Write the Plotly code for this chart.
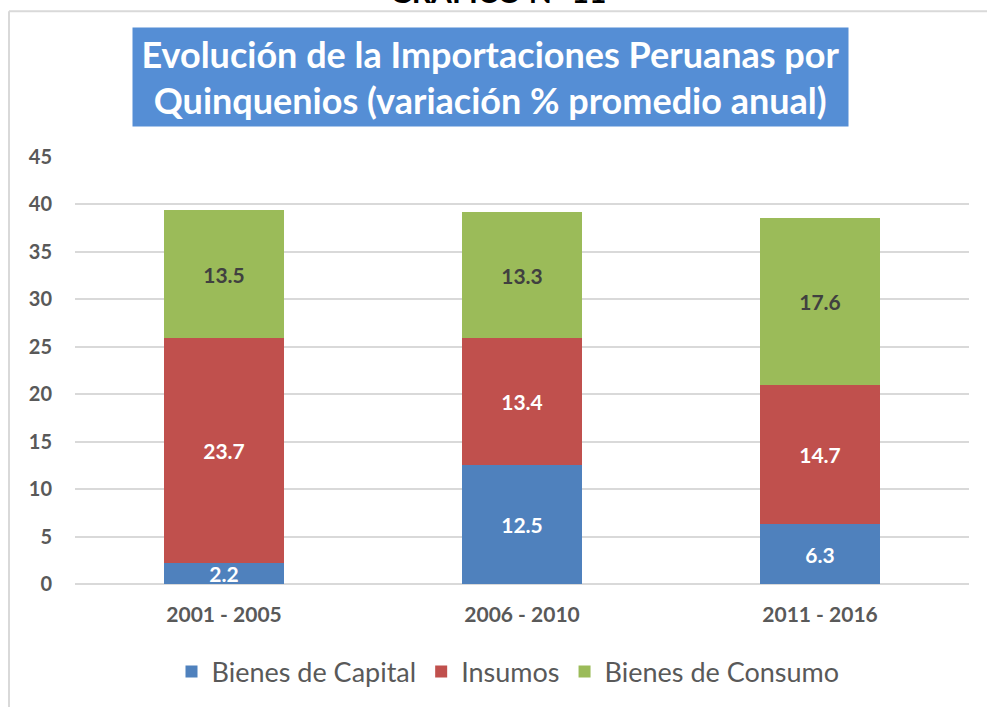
import plotly.graph_objects as go

categories = ["2001 - 2005", "2006 - 2010", "2011 - 2016"]
capital = [2.2, 12.5, 6.3]
insumos = [23.7, 13.4, 14.7]
consumo = [13.5, 13.3, 17.6]
series_names = ["Bienes de Capital", "Insumos", "Bienes de Consumo"]
y_ticks = [0, 5, 10, 15, 20, 25, 30, 35, 40, 45]

FONT = "Lato"
colors = ["#4F81BD", "#C0504D", "#9BBB59"]
label_colors = ["white", "white", "#404040"]

fig = go.Figure()
for name, vals, col, lc in zip(series_names, [capital, insumos, consumo], colors, label_colors):
    fig.add_trace(go.Bar(
        x=categories, y=vals, name=name,
        marker=dict(color=col, line=dict(width=0)),
        text=[f"{v:.1f}" for v in vals],
        textposition="inside", insidetextanchor="middle",
        constraintext="none", textangle=0,
        textfont=dict(family=FONT, size=21, color=lc, weight="bold"),
        hoverinfo="skip",
    ))

W, H = 987, 707
L, R, T, B = 75, 18, 157, 122
pw, ph = W - L - R, H - T - B

def px(x):
    return (x - L) / pw

def py(y):
    return (H - B - y) / ph

fig.update_layout(
    width=W, height=H,
    margin=dict(l=L, r=R, t=T, b=B),
    barmode="stack", bargap=0.6,
    paper_bgcolor="white", plot_bgcolor="white",
    showlegend=True,
    legend=dict(orientation="h", x=px(508), xanchor="center", y=py(672), yanchor="middle",
                font=dict(family=FONT, size=27, color="#595959"),
                traceorder="normal"),
    xaxis=dict(showgrid=False, showline=False, ticks="", ticklabelstandoff=16,
               tickfont=dict(family=FONT, size=21, color="#595959", weight="bold")),
    yaxis=dict(range=[0, 45], tickvals=y_ticks, showgrid=True, gridcolor="#D9D9D9", gridwidth=2,
               zeroline=True, zerolinecolor="#D9D9D9", zerolinewidth=2,
               showline=False, ticks="", ticklabelstandoff=22,
               tickfont=dict(family=FONT, size=20, color="#595959", weight="bold")),
    font=dict(family=FONT),
)

# chart border (top and left)
fig.add_shape(type="line", xref="paper", yref="paper", x0=px(9), x1=px(1000), y0=py(11), y1=py(11),
              line=dict(color="#D9D9D9", width=2))
fig.add_shape(type="line", xref="paper", yref="paper", x0=px(9), x1=px(9), y0=py(11), y1=py(720),
              line=dict(color="#D9D9D9", width=2))

# title box
fig.add_annotation(xref="paper", yref="paper", x=px(490), y=py(77), xanchor="center", yanchor="middle",
                   text="Evolución de la Importaciones Peruanas por<br>Quinquenios (variación % promedio anual)",
                   showarrow=False, bgcolor="#558ED5", width=715, height=98, borderpad=0,
                   font=dict(family=FONT, size=36, color="white", weight="bold"), align="center")

# cut-off header above the chart
fig.add_annotation(xref="paper", yref="paper", x=px(498), y=py(-9), xanchor="center", yanchor="middle",
                   text="GRÁFICO N° 11", showarrow=False,
                   font=dict(family=FONT, size=30, color="black", weight="bold"))

fig.write_html("out.html", config={"displayModeBar": False},
               post_script="document.body.style.margin='0';")
